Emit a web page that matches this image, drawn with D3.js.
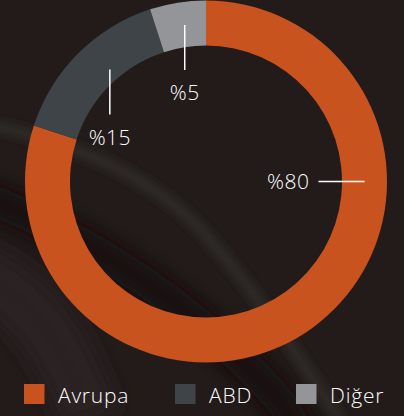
<!DOCTYPE html>
<html>
<head>
<meta charset="utf-8">
<script src="https://cdn.jsdelivr.net/npm/d3@7"></script>
<style>
  html, body { margin: 0; padding: 0; background: #221b1a; }
  text { font-family: "Open Sans", "DejaVu Sans", sans-serif; font-weight: 300; fill: #ffffff; }
</style>
</head>
<body>
<div id="chart"></div>
<script>
// data
var categories = ["Avrupa", "ABD", "Diğer"];
var shares = [80, 15, 5];
var labels = ["%80", "%15", "%5"];
var colors = ["#c8531e", "#3f4448", "#939598"];

var width = 404, height = 416;
var cx = 206, cy = 181.5;
var outerR = 181, innerR = 136;

var svg = d3.select("#chart")
  .append("svg")
  .attr("width", width)
  .attr("height", height);

// background: dark photo-like surface with soft diagonal streaks
var defs = svg.append("defs");
defs.append("filter")
  .attr("id", "blur")
  .attr("x", "-50%").attr("y", "-50%")
  .attr("width", "200%").attr("height", "200%")
  .append("feGaussianBlur")
  .attr("stdDeviation", 10);
defs.append("filter")
  .attr("id", "blur2")
  .attr("x", "-50%").attr("y", "-50%")
  .attr("width", "200%").attr("height", "200%")
  .append("feGaussianBlur")
  .attr("stdDeviation", 4);

svg.append("rect")
  .attr("width", width)
  .attr("height", height)
  .attr("fill", "#221b1a");

// lighter patch bottom-left
svg.append("path")
  .attr("d", "M-30,270 C20,290 60,330 90,420")
  .attr("fill", "none")
  .attr("stroke", "#2a2422")
  .attr("stroke-width", 60)
  .attr("filter", "url(#blur)");
// dark brown band
svg.append("path")
  .attr("d", "M-20,195 C80,235 160,285 230,350 S290,420 300,440")
  .attr("fill", "none")
  .attr("stroke", "#180f0b")
  .attr("stroke-width", 30)
  .attr("filter", "url(#blur)");
// light streak
svg.append("path")
  .attr("d", "M-10,125 C60,140 150,170 210,240 S300,360 340,420")
  .attr("fill", "none")
  .attr("stroke", "#2f2b28")
  .attr("stroke-width", 12)
  .attr("filter", "url(#blur2)");

var color = d3.scaleOrdinal().domain(categories).range(colors);

var pie = d3.pie()
  .sort(null)
  .value(function(d){ return d.value; });

var data = categories.map(function(c, i){
  return {name: c, value: shares[i], label: labels[i]};
});
var arcs = pie(data);

var arc = d3.arc().innerRadius(innerR).outerRadius(outerR);

var g = svg.append("g")
  .attr("transform", "translate(" + cx + "," + cy + ")");

g.selectAll("path.slice")
  .data(arcs)
  .enter()
  .append("path")
  .attr("class", "slice")
  .attr("d", arc)
  .attr("fill", function(d){ return color(d.data.name); });

// leader lines + labels (first one horizontal on the right, the others vertical)
var midR = (innerR + outerR) / 2;
function mid(d){ return (d.startAngle + d.endAngle) / 2; }

arcs.forEach(function(d, i){
  if (i === 0) {
    var x2 = midR;
    g.append("line")
      .attr("x1", x2 - 46).attr("y1", 0)
      .attr("x2", x2).attr("y2", 0)
      .attr("stroke", "#fff").attr("stroke-width", 1.5);
    g.append("text")
      .attr("x", x2 - 55).attr("y", 7.5)
      .attr("text-anchor", "end")
      .style("font-size", "21px")
      .style("letter-spacing", "0.5px")
      .text(d.data.label);
  } else {
    var a = mid(d);
    var px = Math.sin(a) * innerR;
    var top = -Math.cos(a) * midR;
    g.append("line")
      .attr("x1", px).attr("y1", top)
      .attr("x2", px).attr("y2", top + 45)
      .attr("stroke", "#fff").attr("stroke-width", 1.5);
    g.append("text")
      .attr("x", px).attr("y", top + 75.5)
      .attr("text-anchor", "middle")
      .style("font-size", "21px")
      .style("letter-spacing", "0.5px")
      .text(d.data.label);
  }
});

// legend
var legendX = [24, 175, 296];
var legend = svg.selectAll("g.legend")
  .data(data)
  .enter()
  .append("g")
  .attr("class", "legend")
  .attr("transform", function(d, i){ return "translate(" + legendX[i] + ",384)"; });

legend.append("rect")
  .attr("width", 20.5)
  .attr("height", 20)
  .attr("fill", function(d){ return color(d.name); });

legend.append("text")
  .attr("x", 34)
  .attr("y", 18.5)
  .style("font-size", "21px")
  .style("letter-spacing", "0.8px")
  .text(function(d){ return d.name; });
</script>
</body>
</html>
